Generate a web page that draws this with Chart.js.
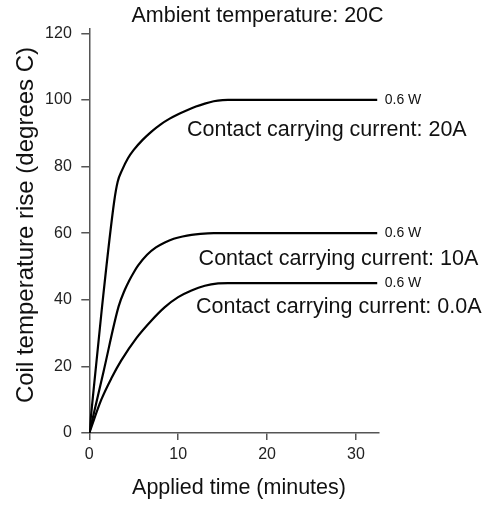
<!DOCTYPE html>
<html>
<head>
<meta charset="utf-8">
<script src="https://cdn.jsdelivr.net/npm/chart.js@4.4.1/dist/chart.umd.min.js"></script>
<style>
  html, body { margin: 0; padding: 0; background: #fff; }
</style>
</head>
<body>
<canvas id="myChart" width="503" height="505"></canvas>
<script>
var chartTitle = "Ambient temperature: 20C";
var xTitle = "Applied time (minutes)";
var yTitle = "Coil temperature rise (degrees C)";
var seriesNames = ["Contact carrying current: 20A", "Contact carrying current: 10A", "Contact carrying current: 0.0A"];
var endLabels = ["0.6 W", "0.6 W", "0.6 W"];

// minutes / degrees C
var time20A = [0, 1.4, 2.8, 3.2, 3.7, 4.35, 5, 6, 7, 8, 9, 10, 11, 12, 13, 14, 15, 15.6, 32.4];
var temp20A = [0, 37, 69.5, 75.5, 79, 82.5, 85, 88, 90.5, 92.6, 94.3, 95.7, 96.9, 98, 98.9, 99.6, 99.95, 100, 100];
var time10A = [0, 1.6, 3.3, 4, 4.5, 5, 5.5, 6.5, 7.5, 8.5, 9.5, 10.5, 11.5, 12.5, 14, 32.4];
var temp10A = [0, 18.4, 38, 43, 45.8, 48.2, 50.3, 53.5, 55.7, 57.2, 58.3, 59, 59.5, 59.8, 60, 60];
var time0A = [0, 1.35, 2.5, 3.6, 5.3, 7, 8.5, 10, 11.5, 13, 14.5, 15.6, 32.4];
var temp0A = [0, 10, 16.5, 21.8, 28.5, 33.8, 37.8, 40.8, 42.8, 44.2, 44.9, 45, 45];

var xTicks = [0, 10, 20, 30];
var yTicks = [0, 20, 40, 60, 80, 100, 120];

function pairs(xs, ys) {
  return xs.map(function (x, i) { return {x: x, y: ys[i]}; });
}

// where the curve captions sit, in axis units (left edge, middle)
var notePos = [[11.0, 91], [12.3, 52.2], [12.0, 37.7]];

var fontFamily = '"Liberation Sans", Arial, sans-serif';
Chart.defaults.font.family = fontFamily;
Chart.defaults.color = "#111";

var curveText = {
  id: "curveText",
  afterDatasetsDraw: function (chart) {
    var ctx = chart.ctx, xs = chart.scales.x, ys = chart.scales.y;
    ctx.save();
    ctx.fillStyle = "#111";
    ctx.textBaseline = "middle";
    ctx.textAlign = "left";
    ctx.font = "14px " + fontFamily;
    chart.data.datasets.forEach(function (ds, i) {
      var pts = chart.getDatasetMeta(i).data;
      var last = pts[pts.length - 1];
      ctx.fillText(endLabels[i], last.x + 7.5, last.y);
    });
    ctx.font = "21.5px " + fontFamily;
    seriesNames.forEach(function (name, i) {
      ctx.fillText(name, xs.getPixelForValue(notePos[i][0]), ys.getPixelForValue(notePos[i][1]));
    });
    // titles
    ctx.textAlign = "center";
    ctx.fillText(chartTitle, 257.5, 16);
    ctx.fillText(xTitle, 239, 488);
    ctx.translate(26.5, 225);
    ctx.rotate(-Math.PI / 2);
    ctx.font = "24px " + fontFamily;
    ctx.fillText(yTitle, 0, 0);
    ctx.restore();
  }
};

var lineStyle = {borderColor: "#000", borderWidth: 2.2, pointRadius: 0, fill: false, cubicInterpolationMode: "monotone"};

new Chart("myChart", {
  type: "line",
  data: {
    datasets: [
      Object.assign({label: seriesNames[0], data: pairs(time20A, temp20A)}, lineStyle),
      Object.assign({label: seriesNames[1], data: pairs(time10A, temp10A)}, lineStyle),
      Object.assign({label: seriesNames[2], data: pairs(time0A, temp0A)}, lineStyle)
    ]
  },
  plugins: [curveText],
  options: {
    responsive: false,
    animation: false,
    layout: {padding: {left: 0, right: 124, top: 28.3, bottom: 0}},
    plugins: {
      legend: {display: false},
      tooltip: {enabled: false},
      title: {display: false}
    },
    scales: {
      x: {
        type: "linear",
        min: 0,
        max: 32.6,
        afterFit: function (s) { s.height = 72; },
        afterBuildTicks: function (s) { s.ticks = xTicks.map(function (v) { return {value: v}; }); },
        border: {display: true, color: "#555", width: 1.5},
        grid: {display: true, drawOnChartArea: false, drawTicks: true, tickLength: 7, color: "#555", lineWidth: 1.5},
        ticks: {font: {size: 16}, color: "#222", padding: 5, maxRotation: 0}
      },
      y: {
        min: 0,
        max: 121.5,
        afterFit: function (s) { s.width = 89.3; },
        afterBuildTicks: function (s) { s.ticks = yTicks.map(function (v) { return {value: v}; }); },
        border: {display: true, color: "#555", width: 1.5},
        grid: {display: true, drawOnChartArea: false, drawTicks: true, tickLength: 8, color: "#555", lineWidth: 1.5},
        ticks: {font: {size: 16}, color: "#222", padding: 9.5}
      }
    }
  }
});
</script>
</body>
</html>
